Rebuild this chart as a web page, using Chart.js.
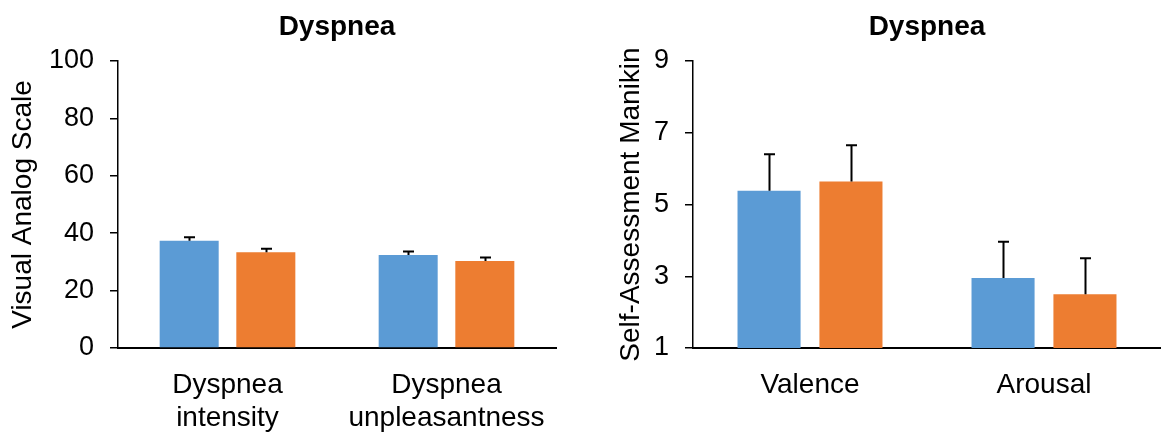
<!DOCTYPE html>
<html>
<head>
<meta charset="utf-8">
<script src="https://cdn.jsdelivr.net/npm/chart.js@4.4.1/dist/chart.umd.min.js"></script>
<style>
  html, body { margin: 0; padding: 0; background: #fff; }
  body { width: 1161px; height: 434px; position: relative; overflow: hidden; }
  .box { position: absolute; top: 0; height: 434px; }
  #b1 { left: 0; width: 580px; }
  #b2 { left: 580px; width: 581px; }
</style>
</head>
<body>
<div class="box" id="b1"><canvas id="c1" width="580" height="434"></canvas></div>
<div class="box" id="b2"><canvas id="c2" width="581" height="434"></canvas></div>
<script>
// ---- Data ----
const titleText = 'Dyspnea';

const vasCategories = [['Dyspnea', 'intensity'], ['Dyspnea', 'unpleasantness']];
const vasBlue = [37.4, 32.4];
const vasBlueErr = [1.2, 1.2];
const vasOrange = [33.4, 30.3];
const vasOrangeErr = [1.2, 1.2];
const vasTicks = [0, 20, 40, 60, 80, 100];
const vasAxisTitle = 'Visual Analog Scale';

const samCategories = ['Valence', 'Arousal'];
const samBlue = [5.38, 2.95];
const samBlueErr = [1.02, 1.01];
const samOrange = [5.64, 2.50];
const samOrangeErr = [1.01, 1.0];
const samTicks = [1, 3, 5, 7, 9];
const samAxisTitle = 'Self-Assessment Manikin';

const BLUE = '#5B9BD5';
const ORANGE = '#ED7D31';
const FONT = "'Liberation Sans', Arial, sans-serif";

const errorBarPlugin = {
  id: 'errorBars',
  afterDatasetsDraw(chart) {
    const ctx = chart.ctx;
    const yScale = chart.scales.y;
    ctx.save();
    ctx.strokeStyle = '#000';
    ctx.lineWidth = 2;
    chart.data.datasets.forEach((ds, di) => {
      const meta = chart.getDatasetMeta(di);
      meta.data.forEach((bar, i) => {
        const v = ds.data[i];
        const e = ds.errors[i];
        const yTop = yScale.getPixelForValue(v + e);
        const x = Math.round(bar.x) + 0.5;
        ctx.beginPath();
        ctx.moveTo(x, bar.y);
        ctx.lineTo(x, yTop);
        ctx.moveTo(x - 5.5, yTop);
        ctx.lineTo(x + 5.5, yTop);
        ctx.stroke();
      });
    });
    ctx.restore();
  }
};

function makeChart(id, cats, blue, blueErr, orange, orangeErr, ticks, axisTitle, yWidth, titlePadTop, rightPad) {
  const tickSet = ticks.slice();
  return new Chart(document.getElementById(id), {
    type: 'bar',
    data: {
      labels: cats,
      datasets: [
        { data: blue, errors: blueErr, backgroundColor: BLUE, borderWidth: 0,
          categoryPercentage: 0.70, barPercentage: 0.77 },
        { data: orange, errors: orangeErr, backgroundColor: ORANGE, borderWidth: 0,
          categoryPercentage: 0.70, barPercentage: 0.77 }
      ]
    },
    plugins: [errorBarPlugin],
    options: {
      responsive: false,
      animation: false,
      devicePixelRatio: 1,
      layout: { padding: { left: 0, right: rightPad, top: 0, bottom: 0 } },
      plugins: {
        legend: { display: false },
        tooltip: { enabled: false },
        title: {
          display: true,
          text: titleText,
          fullSize: false,
          color: '#000',
          font: { family: FONT, size: 28, weight: 'bold', lineHeight: 1.2 },
          padding: { top: 10, bottom: 17.4 }
        }
      },
      scales: {
        x: {
          grid: { display: false, drawTicks: false },
          border: { display: true, color: '#000', width: 2 },
          ticks: {
            color: '#000',
            font: { family: FONT, size: 28, lineHeight: 1.2 },
            padding: 20,
            maxRotation: 0,
            autoSkip: false
          },
          afterFit(s) { s.height = 86; }
        },
        y: {
          min: tickSet[0],
          max: tickSet[tickSet.length - 1],
          afterBuildTicks(s) { s.ticks = tickSet.map(v => ({ value: v })); },
          grid: { display: true, drawOnChartArea: false, drawTicks: true, tickLength: 8,
                  color: '#000', lineWidth: 1.5 },
          border: { display: true, color: '#000', width: 1.5 },
          ticks: {
            color: '#000',
            font: { family: FONT, size: 27 },
            padding: 16
          },
          title: {
            display: true,
            text: axisTitle,
            color: '#000',
            font: { family: FONT, size: 28, lineHeight: 1.2 },
            padding: { top: titlePadTop, bottom: 0 }
          },
          afterFit(s) { s.width = yWidth; }
        }
      }
    }
  });
}

makeChart('c1', vasCategories, vasBlue, vasBlueErr, vasOrange, vasOrangeErr, vasTicks, vasAxisTitle, 118, 6, 24);
makeChart('c2', samCategories, samBlue, samBlueErr, samOrange, samOrangeErr, samTicks, samAxisTitle, 113, 34, 0);
</script>
</body>
</html>
